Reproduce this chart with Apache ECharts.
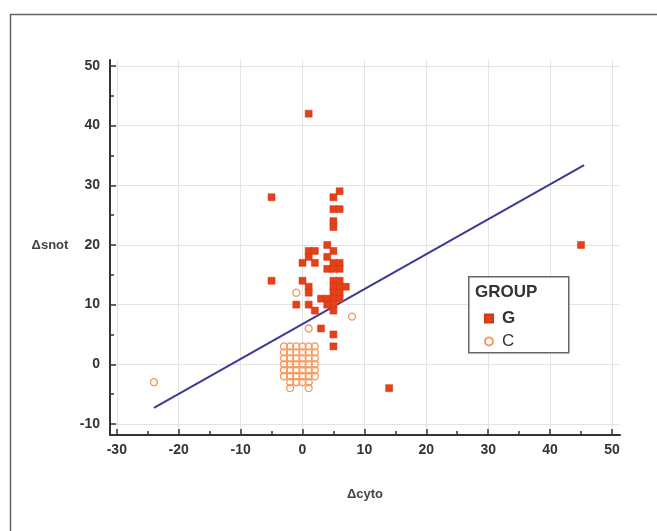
<!DOCTYPE html>
<html><head><meta charset="utf-8">
<script src="https://cdn.jsdelivr.net/npm/echarts@6/dist/echarts.min.js"></script>
<style>html,body{margin:0;padding:0;background:#fff}#c{width:657px;height:531px}</style>
</head><body><div id="c"></div>
<script>
// Group G (filled squares)
const gX = [-5, 6, 5, 5, 6, 5, 5, 1, 4, 1, 2, 1, 0, 2, 4, 5, 4, 5, 6, 6, 5, -5, 0, 1, 1, 5, 6, 5, 6, 7, 5, 6, -1, 1, 2, 3, 4, 5, 6, 4, 5, 5, 3, 5, 5, 14, 45];
const gY = [28, 29, 28, 26, 26, 24, 23, 42, 20, 19, 19, 18, 17, 17, 18, 19, 16, 17, 17, 16, 16, 14, 14, 13, 12, 14, 14, 13, 13, 13, 12, 12, 10, 10, 9, 11, 11, 11, 11, 10, 10, 9, 6, 5, 3, -4, 20];
// Group C (open circles)
const cX = [-3, -2, -1, 0, 1, 2, -3, -2, -1, 0, 1, 2, -3, -2, -1, 0, 1, 2, -3, -2, -1, 0, 1, 2, -3, -2, -1, 0, 1, 2, -3, -2, -1, 0, 1, 2, -2, -1, 0, 1, -2, 1, -1, 1, 8, -24];
const cY = [3, 3, 3, 3, 3, 3, 2, 2, 2, 2, 2, 2, 1, 1, 1, 1, 1, 1, 0, 0, 0, 0, 0, 0, -1, -1, -1, -1, -1, -1, -2, -2, -2, -2, -2, -2, -3, -3, -3, -3, -4, -4, 12, 6, 8, -3];
// Regression line end points
const lineX = [-24, 45.5];
const lineY = [-7.3, 33.4];
// Tick values
const xMajor = [-30, -20, -10, 0, 10, 20, 30, 40, 50];
const xMinor = [-25, -15, -5, 5, 15, 25, 35, 45];
const yMajor = [-10, 0, 10, 20, 30, 40, 50];
const yMinor = [-5, 5, 15, 25, 35, 45];

const zip = (a, b) => a.map((v, i) => [v, b[i]]);
const FONT = 'Liberation Sans';
const axisCol = '#333';
const gridCol = '#e4e4e4';
const xMin = -31.1, xMax = 51.3, yMin = -11.85, yMax = 51;

const chart = echarts.init(document.getElementById('c'), null, {renderer: 'canvas'});
chart.setOption({
  animation: false,
  backgroundColor: '#fff',
  grid: {left: 110, right: 37, top: 60, bottom: 96, containLabel: false},
  xAxis: [{
    type: 'value', min: xMin, max: xMax, position: 'bottom',
    axisLine: {show: true, onZero: false, lineStyle: {color: axisCol, width: 2}},
    axisTick: {show: true, inside: true, length: 6, customValues: xMajor, lineStyle: {color: axisCol, width: 1.5}},
    axisLabel: {customValues: xMajor, color: axisCol, fontFamily: FONT, fontWeight: 'bold', fontSize: 14, margin: 8},
    splitLine: {show: true, lineStyle: {color: gridCol, width: 1}},
    name: 'Δcyto', nameLocation: 'middle', nameGap: 53,
    nameTextStyle: {color: '#444', fontFamily: FONT, fontWeight: 'bold', fontSize: 13}
  }, {
    type: 'value', min: xMin, max: xMax, position: 'bottom',
    axisLine: {show: false, onZero: false},
    axisTick: {show: true, inside: true, length: 4, customValues: xMinor, lineStyle: {color: axisCol, width: 1.5}},
    axisLabel: {show: false}, splitLine: {show: false}
  }],
  yAxis: [{
    type: 'value', min: yMin, max: yMax, position: 'left',
    axisLine: {show: true, onZero: false, lineStyle: {color: axisCol, width: 2}},
    axisTick: {show: true, inside: true, length: 6, customValues: yMajor, lineStyle: {color: axisCol, width: 1.5}},
    axisLabel: {customValues: yMajor, color: axisCol, fontFamily: FONT, fontWeight: 'bold', fontSize: 14, margin: 10},
    splitLine: {show: true, lineStyle: {color: gridCol, width: 1}}
  }, {
    type: 'value', min: yMin, max: yMax, position: 'left',
    axisLine: {show: false, onZero: false},
    axisTick: {show: true, inside: true, length: 4, customValues: yMinor, lineStyle: {color: axisCol, width: 1.5}},
    axisLabel: {show: false}, splitLine: {show: false}
  }],
  legend: {
    orient: 'vertical', left: 479, top: 305, itemGap: 6, z: 40,
    itemWidth: 8, itemHeight: 8,
    textStyle: {color: '#333', fontFamily: FONT, fontSize: 17, lineHeight: 17, padding: [0, 0, 0, 4]},
    data: [{name: 'G', textStyle: {fontWeight: 'bold'}}, {name: 'C'}]
  },
  graphic: [
    {type: 'rect', left: 8, top: 12, z: -10, silent: true,
     shape: {width: 680, height: 560}, style: {fill: 'none', stroke: '#666', lineWidth: 1.5}},
    {type: 'rect', left: 468, top: 276, z: 20, silent: true,
     shape: {width: 100, height: 76}, style: {fill: '#fff', stroke: '#666', lineWidth: 1.5}},
    {type: 'text', left: 475, top: 284, z: 21, silent: true,
     style: {text: 'GROUP', fill: '#333', font: 'bold 17px "Liberation Sans"'}},
    {type: 'text', x: 50, y: 245, z: 6, silent: true,
     style: {text: 'Δsnot', fill: '#444', font: 'bold 13px "Liberation Sans"', align: 'center', verticalAlign: 'middle'}}
  ],
  series: [
    {
      name: 'Fit', type: 'line', data: zip(lineX, lineY), showSymbol: false, symbol: 'none',
      lineStyle: {color: '#3b3a98', width: 2}, z: 3, legendHoverLink: false
    },
    {
      name: 'C', type: 'scatter', data: zip(cX, cY), symbol: 'circle', symbolSize: 7,
      itemStyle: {color: 'rgba(255,255,255,0)', borderColor: '#f39a5c', borderWidth: 1.3, opacity: 1}, z: 2
    },
    {
      name: 'G', type: 'scatter', data: zip(gX, gY), symbol: 'rect', symbolSize: 7,
      itemStyle: {color: '#e4401a', borderColor: '#cf3813', borderWidth: 0.5, opacity: 1}, z: 4
    }
  ]
});
</script></body></html>
